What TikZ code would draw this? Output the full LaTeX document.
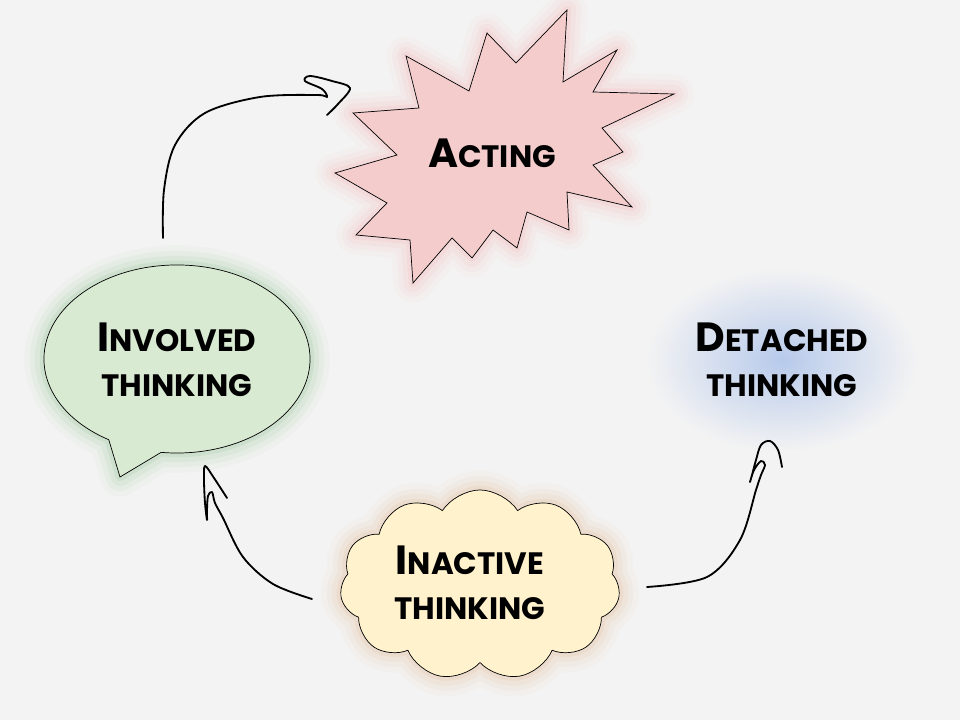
\documentclass[tikz,border=0pt]{standalone}
\usepackage{fontspec}
\setmainfont{Poppins}
\usetikzlibrary{shapes.symbols,shapes.callouts}
\definecolor{bggray}{HTML}{F3F3F3}
\definecolor{actpink}{HTML}{F4CCCC}
\definecolor{invgreen}{HTML}{D9EAD3}
\definecolor{inayellow}{HTML}{FFF2CC}
\definecolor{detblue}{HTML}{B7CAEB}
\newcommand{\bigfirst}[2]{{\fontsize{29}{32}\selectfont #1}#2}
\newcommand{\burstshape}{(567,10) -- (563,82) -- (617,50) -- (593,92) -- (674,94) -- (602,128)
    -- (623,152) -- (593,165) -- (632,207) -- (567,192) -- (569,230) -- (527,212) -- (517,248)
    -- (493,230) -- (472,258) -- (452,238) -- (413,283) -- (410,240) -- (356,235) -- (387,203)
    -- (335,173) -- (397,155) -- (353,113) -- (419,108) -- (406,56) -- (469,91) -- (487,33)
    -- (516,63) -- cycle}
\tikzset{
    glow/.style = {
        preaction = {draw=#1, draw opacity=0.025, line width=28pt, line join=round},
        preaction = {draw=#1, draw opacity=0.035, line width=20pt, line join=round},
        preaction = {draw=#1, draw opacity=0.045, line width=13pt, line join=round},
        preaction = {draw=#1, draw opacity=0.06, line width=6pt, line join=round},
        },
    shape line/.style = {
        draw = black,
        line width = 0.5pt,
        },
    label text/.style = {
        font = \bfseries\fontsize{22}{32}\selectfont,
        align = center,
        text = black,
        inner sep = 0pt,
        },
    sketch/.style = {
        draw = black,
        line width = 1.3pt,
        line cap = round,
        line join = round,
        },
}
\begin{document}
\begin{tikzpicture}[x=0.025cm, y=-0.025cm]
    \fill[bggray] (0,0) rectangle (960,720);
    \useasboundingbox (0,0) rectangle (960,720);

    % shapes
    \shade[inner color=detblue, outer color=bggray] (782,360) ellipse [x radius=3.4cm, y radius=2.3cm];
    \path[shape line, fill=actpink, glow=red!70] \burstshape;
    \node[ellipse callout, shape line, fill=invgreen, glow=green!50!black,
        minimum width=6.65cm, minimum height=4.7cm, inner sep=0pt,
        callout absolute pointer={(120,477)}, callout pointer arc=24] (involved) at (177,359) {};
    \node[cloud, cloud puffs=11, cloud puff arc=115, cloud ignores aspect, shape line,
        fill=inayellow, glow=orange!80!black,
        minimum width=7cm, minimum height=4.75cm] (inactive) at (480,585) {};

    % labels
    \node[label text] (acting) at (492,153) {\bigfirst{A}{CTING}};
    \node[label text] (involvedtext) at (177,360) {\bigfirst{I}{NVOLVED}\\THINKING};
    \node[label text] (inactivetext) at (470,583) {\bigfirst{I}{NACTIVE}\\THINKING};
    \node[label text] (detached) at (782,360) {\bigfirst{D}{ETACHED}\\THINKING};

    % arrows
    \coordinate (from involved) at (163,238);
    \coordinate (from inactive l) at (312,599);
    \coordinate (from inactive r) at (647,587);
    \draw[sketch] plot[smooth, tension=0.55] coordinates {(from involved) (164,190) (175,145)
        (205,113) (260,97) (317,95) (327,97) (322,89) (305,81) (310,76) (332,81) (350,88)
        (338,104) (327,115)};
    \draw[sketch] plot[smooth, tension=0.55] coordinates {(from inactive l) (273,584) (243,557)
        (223,518) (215,503) (212,492) (208,496) (207,510) (207,520) (205,503) (204,480)
        (205,466) (214,478) (227,498)};
    \draw[sketch] plot[smooth, tension=0.55] coordinates {(from inactive r) (707,577) (740,540)
        (756,490) (761,475) (765,465) (761,461) (754,470) (750,482) (752,475) (756,460)
        (761,445) (770,441) (778,450) (782,467)};
\end{tikzpicture}
\end{document}
